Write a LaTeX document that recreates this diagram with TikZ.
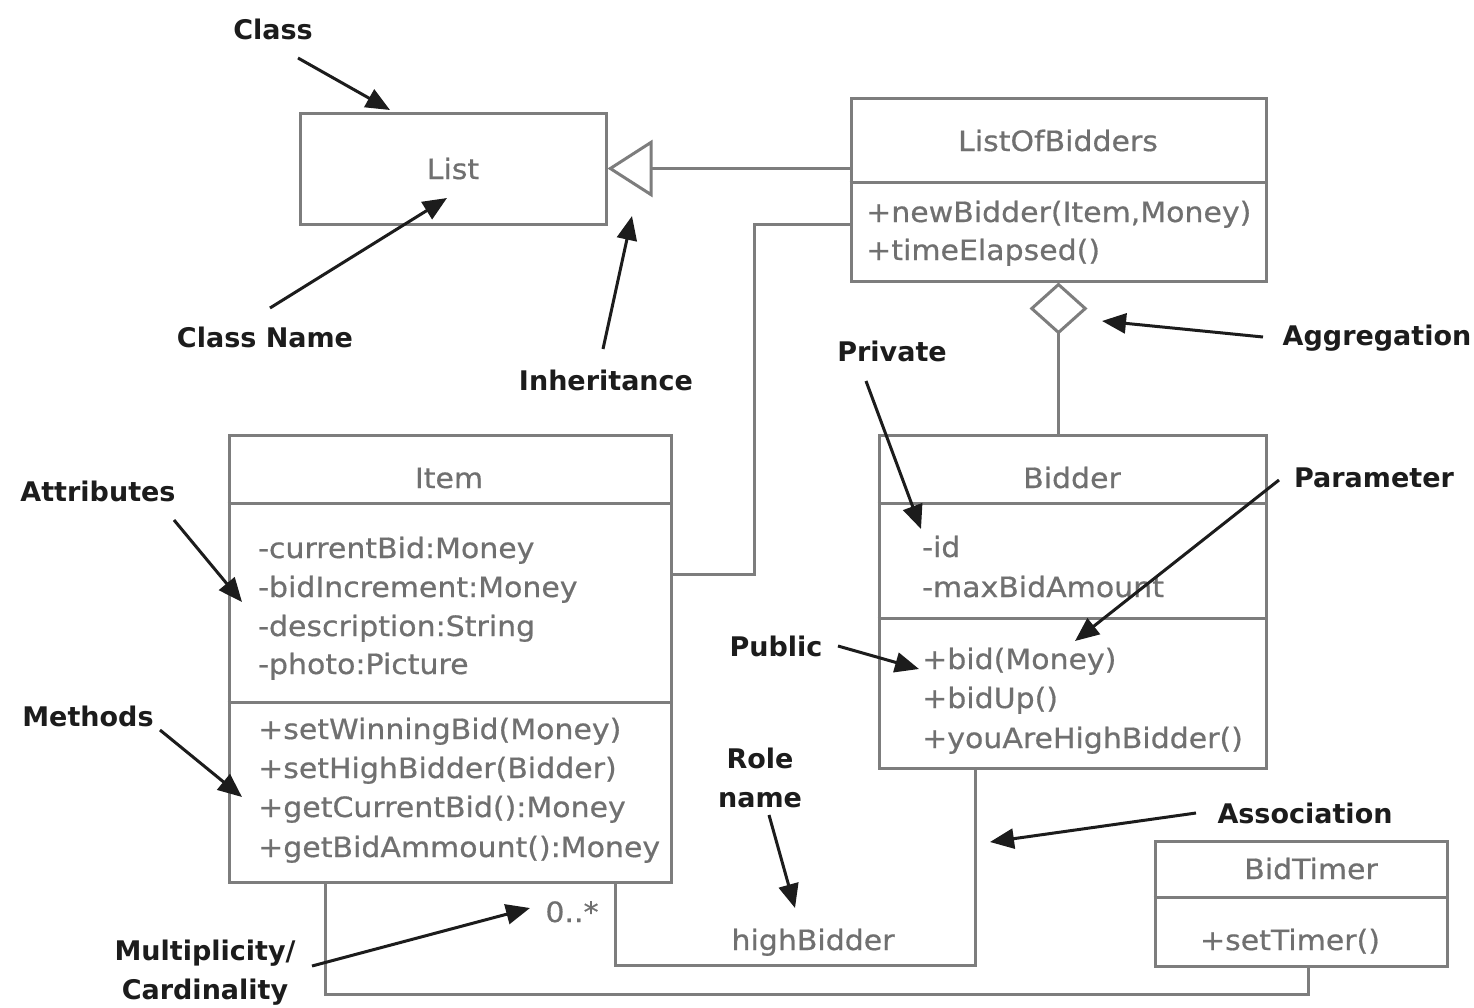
\documentclass[tikz,border=0pt]{standalone}
\usepackage{fontspec}
\setmainfont{DejaVu Sans}
\newfontfamily\clsfont[FakeStretch=1.07,FakeBold=0.6]{DejaVu Sans}
\usetikzlibrary{arrows.meta}

\definecolor{boxline}{RGB}{125,125,125}
\definecolor{boxtext}{RGB}{112,112,112}
\definecolor{notecol}{RGB}{28,28,28}

\tikzset{
  clsbox/.style={draw=boxline, line width=3pt, inner sep=0pt},
  clsline/.style={draw=boxline, line width=3pt},
  clstext/.style={font=\clsfont\fontsize{28}{34}\selectfont, text=boxtext, inner sep=0pt},
  notetext/.style={font=\bfseries\fontsize{27}{39}\selectfont, text=notecol, inner sep=0pt, align=center},
  note/.style={draw=notecol, line width=3pt, -{Triangle[length=24pt,width=20pt]}},
}

\begin{document}
\begin{tikzpicture}[x=1pt,y=-1pt]
  \fill[white] (0,0) rectangle (1474,1007);
  \useasboundingbox (0,0) rectangle (1474,1007);

  % ---- class boxes ----
  \node[clsbox, minimum width=306pt, minimum height=111pt] (list)   at (453,168.5) {};
  \node[clsbox, minimum width=415pt, minimum height=183pt] (lob)    at (1058.5,189.5) {};
  \node[clsbox, minimum width=442pt, minimum height=447pt] (item)   at (450,658.5) {};
  \node[clsbox, minimum width=387pt, minimum height=333pt] (bidder) at (1072.5,601.5) {};
  \node[clsbox, minimum width=292pt, minimum height=125pt] (timer)  at (1301,903.5) {};

  % compartment dividers
  \coordinate (lobdiv)  at (0,182);
  \coordinate (itemdivA) at (0,503);
  \coordinate (itemdivB) at (0,702);
  \coordinate (biddivA) at (0,503);
  \coordinate (biddivB) at (0,618);
  \coordinate (timdiv)  at (0,897);
  \draw[clsline] (lob.west |- lobdiv) -- (lob.east |- lobdiv);
  \draw[clsline] (item.west |- itemdivA) -- (item.east |- itemdivA);
  \draw[clsline] (item.west |- itemdivB) -- (item.east |- itemdivB);
  \draw[clsline] (bidder.west |- biddivA) -- (bidder.east |- biddivA);
  \draw[clsline] (bidder.west |- biddivB) -- (bidder.east |- biddivB);
  \draw[clsline] (timer.west |- timdiv) -- (timer.east |- timdiv);

  % ---- class contents ----
  \node[clstext, anchor=base] (listname) at (453,179) {List};

  \node[clstext, anchor=base] (lobname) at (1058,151) {ListOfBidders};
  \node[clstext, anchor=base west] (lobm1) at (866,222) {+newBidder(Item,Money)};
  \node[clstext, anchor=base west] (lobm2) at (866,260) {+timeElapsed()};

  \node[clstext, anchor=base] (itemname) at (449,488) {Item};
  \node[clstext, anchor=base west] (itema1) at (258,558) {-currentBid:Money};
  \node[clstext, anchor=base west] (itema2) at (258,597) {-bidIncrement:Money};
  \node[clstext, anchor=base west] (itema3) at (258,636) {-description:String};
  \node[clstext, anchor=base west] (itema4) at (258,674) {-photo:Picture};
  \node[clstext, anchor=base west] (itemm1) at (258,739) {+setWinningBid(Money)};
  \node[clstext, anchor=base west] (itemm2) at (258,778) {+setHighBidder(Bidder)};
  \node[clstext, anchor=base west] (itemm3) at (258,817) {+getCurrentBid():Money};
  \node[clstext, anchor=base west] (itemm4) at (258,857) {+getBidAmmount():Money};

  \node[clstext, anchor=base] (bidname) at (1072,488) {Bidder};
  \node[clstext, anchor=base west] (bida1) at (922,557) {-id};
  \node[clstext, anchor=base west] (bida2) at (922,597) {-maxBidAmount};
  \node[clstext, anchor=base west] (bidm1) at (922,669) {+bid(Money)};
  \node[clstext, anchor=base west] (bidm2) at (922,708) {+bidUp()};
  \node[clstext, anchor=base west] (bidm3) at (922,748) {+youAreHighBidder()};

  \node[clstext, anchor=base] (timname) at (1311,879) {BidTimer};
  \node[clstext, anchor=base] (timm1) at (1290,950) {+setTimer()};

  \node[clstext, anchor=base] (mult) at (572,922) {0..*};
  \node[clstext, anchor=base] (role) at (813,950) {highBidder};

  % ---- relationships ----
  % inheritance ListOfBidders -> List
  \draw[clsline, -{Triangle[open, length=45pt, width=57pt]}] (lob.west |- list.east) -- (list.east);
  % aggregation Bidder -> ListOfBidders
  \draw[clsline, -{Diamond[open, length=52pt, width=58pt]}] (lob.south |- bidder.north) -- (lob.south);
  % association ListOfBidders -- Item
  \coordinate (a1) at (754,224);
  \coordinate (a2) at (754,574);
  \draw[clsline] (lob.west |- a1) -- (a1) -- (a2) -- (item.east |- a2);
  % association Item -- Bidder (highBidder)
  \coordinate (h1) at (615,965);
  \coordinate (h2) at (975,965);
  \draw[clsline] (item.south -| h1) -- (h1) -- (h2) -- (bidder.south -| h2);
  % association Item -- BidTimer
  \coordinate (t1) at (325,994);
  \coordinate (t2) at (1308,994);
  \draw[clsline] (item.south -| t1) -- (t1) -- (t2) -- (timer.south -| t2);

  % ---- annotations ----
  \node[notetext] (nClass)  at (273,29)  {Class};
  \node[notetext] (nName)   at (265,337) {Class Name};
  \node[notetext] (nInher)  at (606,380) {Inheritance};
  \node[notetext] (nPriv)   at (892,351) {Private};
  \node[notetext] (nAggr)   at (1377,338) {Aggregation};
  \node[notetext] (nParam)  at (1374,478) {Parameter};
  \node[notetext] (nAttr)   at (98,491)  {Attributes};
  \node[notetext] (nMeth)   at (88,716)  {Methods};
  \node[notetext] (nPub)    at (776,646) {Public};
  \node[notetext] (nRole)   at (760,777.5) {Role\\name};
  \node[notetext] (nAssoc)  at (1305,813) {Association};
  \node[notetext] (nMult)   at (205,972.5) {Multiplicity/\\Cardinality};

  \coordinate (sClass) at (298,58);   \coordinate (eClass) at (390,110);
  \coordinate (sName)  at (270,308);  \coordinate (eName)  at (447,198);
  \coordinate (sInher) at (603,349);  \coordinate (eInher) at (632,216);
  \coordinate (sPriv)  at (866,381);  \coordinate (ePriv)  at (921,529);
  \coordinate (sAggr)  at (1263,337); \coordinate (eAggr)  at (1102,321);
  \coordinate (sParam) at (1279,480); \coordinate (eParam) at (1075,641);
  \coordinate (sAttr)  at (174,520);  \coordinate (eAttr)  at (242,602);
  \coordinate (sMeth)  at (160,730);  \coordinate (eMeth)  at (242,797);
  \coordinate (sPub)   at (838,646);  \coordinate (ePub)   at (919,669);
  \coordinate (sRole)  at (769,815);  \coordinate (eRole)  at (795,908);
  \coordinate (sAssoc) at (1196,813); \coordinate (eAssoc) at (990,842);
  \coordinate (sMult)  at (312,966);  \coordinate (eMult)  at (530,908);

  \draw[note] (sClass) -- (eClass);
  \draw[note] (sName)  -- (eName);
  \draw[note] (sInher) -- (eInher);
  \draw[note] (sPriv)  -- (ePriv);
  \draw[note] (sAggr)  -- (eAggr);
  \draw[note] (sParam) -- (eParam);
  \draw[note] (sAttr)  -- (eAttr);
  \draw[note] (sMeth)  -- (eMeth);
  \draw[note] (sPub)   -- (ePub);
  \draw[note] (sRole)  -- (eRole);
  \draw[note] (sAssoc) -- (eAssoc);
  \draw[note] (sMult)  -- (eMult);
\end{tikzpicture}
\end{document}
